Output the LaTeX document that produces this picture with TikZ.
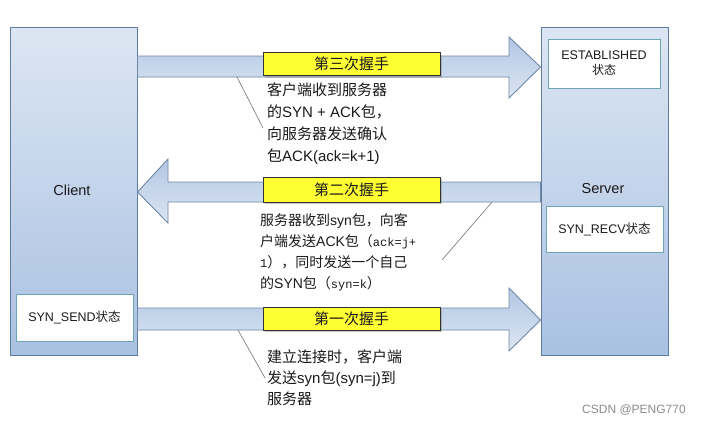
\documentclass[tikz,border=0pt]{standalone}
\usepackage{fontspec}
\setmainfont{Noto Sans CJK SC}
\newfontfamily\lat{Liberation Sans}
\newfontfamily\mono{Liberation Mono}
\definecolor{boxtop}{HTML}{DCE6F3}
\definecolor{boxbot}{HTML}{A9C1E2}
\definecolor{boxline}{HTML}{5F7D9F}
\definecolor{arrtop}{HTML}{B2C7E4}
\definecolor{arrbot}{HTML}{DCE5F2}
\definecolor{arrline}{HTML}{6F88A8}
\definecolor{stateline}{HTML}{6FA6B6}
\definecolor{labyellow}{HTML}{FFFF33}
\definecolor{txt}{HTML}{1A1A1A}
\usetikzlibrary{shadows}
\tikzset{
  hostbox/.style={draw=boxline, line width=1pt, top color=boxtop, bottom color=boxbot, inner sep=0pt},
  blockarrow/.style={draw=arrline, line width=0.9pt, top color=arrtop, bottom color=arrbot},
  statebox/.style={draw=stateline, line width=1pt, fill=white, inner sep=0pt, font=\lat\fontsize{12.5}{16}\selectfont, text=txt, align=center},
  steplabel/.style={draw=black!80, line width=1pt, fill=labyellow, minimum width=177pt, minimum height=23pt, inner sep=0pt, font=\fontsize{15}{18}\selectfont, text=txt,
     drop shadow={shadow xshift=2pt, shadow yshift=-2pt, fill=black!45}},
  desc/.style={anchor=north west, align=left, inner sep=0pt, text=txt},
  callout/.style={draw=black!55, line width=0.6pt},
  hostlabel/.style={font=\lat\fontsize{14.5}{16}\selectfont, text=txt}
}
\begin{document}
\begin{tikzpicture}[x=1pt,y=-1pt]
\useasboundingbox (0,0) rectangle (701,423);
\fill[white] (0,0) rectangle (701,423);

% hosts
\node[hostbox, minimum width=127pt, minimum height=328pt] (client) at (73.5,191) {};
\node[hostbox, minimum width=127pt, minimum height=328pt] (server) at (604.5,191) {};
\node[hostlabel] (clientlbl) at (72,190) {Client};
\node[hostlabel] (serverlbl) at (603,189) {Server};

% third handshake arrow (right)
\path[blockarrow] (client.east |- 0,56) -- (509,56) -- (509,37) -- (server.west |- 0,67)
   -- (509,98) -- (509,77) -- (client.east |- 0,77) -- cycle;
% second handshake arrow (left)
\path[blockarrow] (server.west |- 0,182) -- (168,182) -- (168,159) -- (client.east |- 0,192)
   -- (168,223) -- (168,202) -- (server.west |- 0,202) -- cycle;
% first handshake arrow (right)
\path[blockarrow] (client.east |- 0,308) -- (509,308) -- (509,288) -- (server.west |- 0,320)
   -- (509,351) -- (509,330) -- (client.east |- 0,330) -- cycle;

% state boxes
\node[statebox, minimum width=112pt, minimum height=49pt] (est) at (604,63.5) {ESTABLISHED\\[-1pt]{\fontsize{12}{14}\selectfont\rmfamily 状态}};
\node[statebox, minimum width=117pt, minimum height=46pt] (recv) at (604.5,229) {SYN\_RECV{\rmfamily 状态}};
\node[statebox, minimum width=117pt, minimum height=47pt] (send) at (74.5,317.5) {SYN\_SEND{\rmfamily 状态}};

% step labels
\node[steplabel] (step3) at (351.5,64) {第三次握手};
\node[steplabel, minimum height=25pt] (step2) at (351.5,189.5) {第二次握手};
\node[steplabel] (step1) at (351.5,318.5) {第一次握手};

% descriptions
\node[desc, font=\fontsize{15}{22}\selectfont] (d3) at (267,83)
  {客户端收到服务器\\的{\lat SYN + ACK}包，\\向服务器发送确认\\包{\lat ACK(ack=k+1)}};
\node[desc, font=\fontsize{14}{21.3}\selectfont] (d2) at (260,213)
  {服务器收到{\lat syn}包，向客\\户端发送{\lat ACK}包（{\mono\fontsize{12}{14}\selectfont ack=j+}\\{\mono\fontsize{12}{14}\selectfont 1}），同时发送一个自己\\的{\lat SYN}包（{\mono\fontsize{12}{14}\selectfont syn=k}）};
\node[desc, font=\fontsize{15}{21}\selectfont] (d1) at (267,350)
  {建立连接时，客户端\\发送{\lat syn}包{\lat (syn=j)}到\\服务器};

% callout lines
\coordinate (c3a) at (237,77);
\coordinate (c3b) at (263,128);
\coordinate (c2a) at (492,202);
\coordinate (c2b) at (442,260);
\coordinate (c1a) at (238,330);
\coordinate (c1b) at (265,378);
\draw[callout] (c3a) -- (c3b);
\draw[callout] (c2a) -- (c2b);
\draw[callout] (c1a) -- (c1b);

% watermark
\node[font=\lat\fontsize{12}{14}\selectfont, text=black!45] (wm) at (634,410) {CSDN @PENG770};
\end{tikzpicture}
\end{document}
